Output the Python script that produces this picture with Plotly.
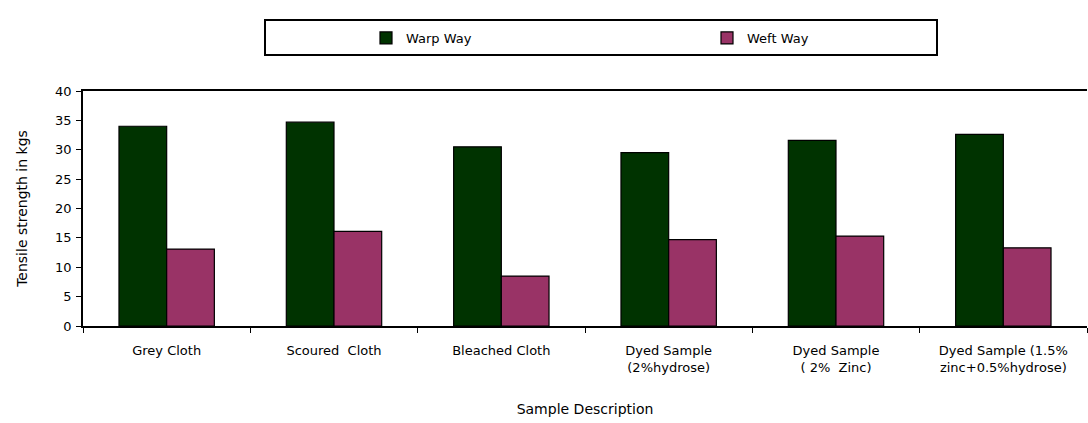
import plotly.graph_objects as go

# Tensile strength (kg) of the fabric samples, warp and weft direction
categories = [
    "Grey Cloth",
    "Scoured  Cloth",
    "Bleached Cloth",
    "Dyed Sample<br>(2%hydrose)",
    "Dyed Sample<br>( 2%  Zinc)",
    "Dyed Sample (1.5%<br>zinc+0.5%hydrose)",
]
warp_way = [34.0, 34.7, 30.5, 29.5, 31.6, 32.6]
weft_way = [13.1, 16.1, 8.5, 14.7, 15.3, 13.3]

W, H = 1088, 423
FONT = "DejaVu Sans"

fig = go.Figure()
fig.add_trace(go.Bar(
    name="Warp Way", x=categories, y=warp_way,
    marker=dict(color="#003300", line=dict(color="#000000", width=1.2)),
))
fig.add_trace(go.Bar(
    name="Weft Way", x=categories, y=weft_way,
    marker=dict(color="#993366", line=dict(color="#000000", width=1.2)),
))

fig.update_layout(
    width=W, height=H,
    margin=dict(l=83, r=1, t=91, b=97),
    paper_bgcolor="white", plot_bgcolor="white",
    barmode="group", bargap=0.43, bargroupgap=0,
    font=dict(family=FONT, size=13, color="#000000"),
    showlegend=True,
    legend=dict(
        orientation="h",
        xref="container", yref="container",
        x=366 / W, y=1 - 23 / H, xanchor="left", yanchor="top",
        entrywidth=296, entrywidthmode="pixels",
        bgcolor="rgba(0,0,0,0)", borderwidth=0,
        font=dict(family=FONT, size=13, color="#000000"),
        traceorder="normal",
    ),
    shapes=[dict(
        type="rect", xref="paper", yref="paper",
        x0=(265 - 83) / (W - 84), x1=(937 - 83) / (W - 84),
        y0=1 + (91 - 55) / (H - 188), y1=1 + (91 - 20) / (H - 188),
        line=dict(color="#000000", width=2), fillcolor="rgba(0,0,0,0)",
        layer="above",
    )],
)

fig.update_xaxes(
    showline=True, linecolor="#000000", linewidth=1.5, mirror=True,
    ticks="outside", tickson="boundaries", ticklen=5, tickcolor="#000000",
    ticklabelstandoff=12,
    showgrid=False, zeroline=False,
    tickfont=dict(family=FONT, size=13, color="#000000"),
    title=dict(text="Sample Description", standoff=30,
               font=dict(family=FONT, size=14, color="#000000")),
)
fig.update_yaxes(
    range=[0, 40], dtick=5, showline=True, linecolor="#000000", linewidth=1.5,
    ticks="outside", ticklen=5, tickcolor="#000000",
    ticklabelstandoff=2,
    showgrid=False, zeroline=False,
    tickfont=dict(family=FONT, size=13, color="#000000"),
    title=dict(text="Tensile strength in kgs", standoff=24,
               font=dict(family=FONT, size=14, color="#000000")),
)

fig.write_html("out.html")
